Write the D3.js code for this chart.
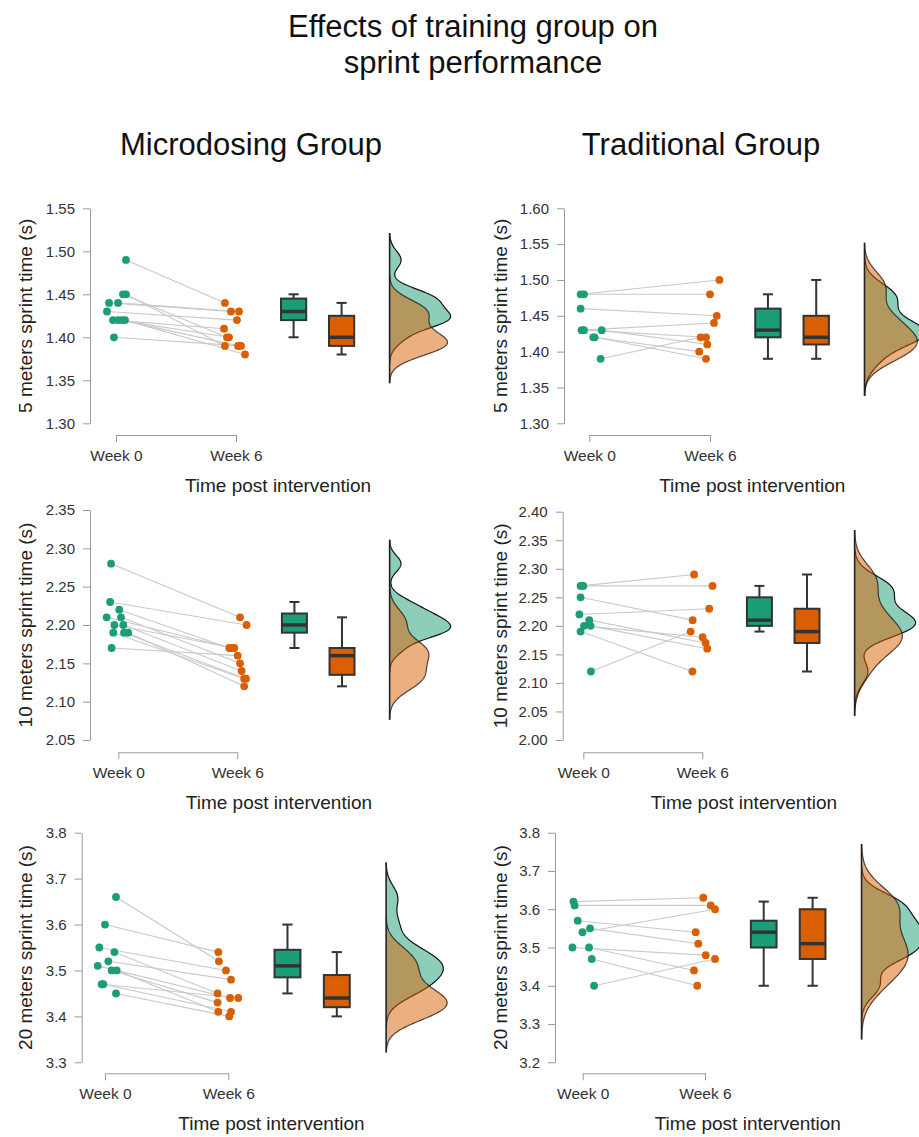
<!DOCTYPE html>
<html lang="en">
<head>
    <meta charset="UTF-8">
    <title>Effects of training group on sprint performance</title>
    <script src="https://d3js.org/d3.v7.min.js"></script>
    <style>
        body {
            margin: 0;
            background: #fff;
            font-family: "Liberation Sans", Arial, sans-serif;
        }
        svg { display: block; }
    </style>
</head>
<body>
    <svg width="919" height="1137"></svg>
    <script>
        // ---- data ----
        const weeks = ["Week 0", "Week 6"];
        const groupTitles = ["Microdosing Group", "Traditional Group"];
        const yLabels = ["5 meters sprint time (s)", "10 meters sprint time (s)", "20 meters sprint time (s)"];
        const xLabel = "Time post intervention";

        // paired values: index i in week0 belongs to index i in week6
        const micro5Week0 = [1.49, 1.45, 1.45, 1.44, 1.44, 1.43, 1.42, 1.42, 1.42, 1.42, 1.40];
        const micro5Week6 = [1.44, 1.40, 1.39, 1.43, 1.43, 1.42, 1.41, 1.40, 1.39, 1.38, 1.39];
        const trad5Week0  = [1.48, 1.48, 1.46, 1.43, 1.43, 1.43, 1.42, 1.42, 1.39];
        const trad5Week6  = [1.50, 1.48, 1.45, 1.44, 1.42, 1.41, 1.40, 1.39, 1.42];

        const micro10Week0 = [2.28, 2.23, 2.22, 2.21, 2.21, 2.20, 2.20, 2.19, 2.19, 2.19, 2.17];
        const micro10Week6 = [2.21, 2.20, 2.17, 2.17, 2.15, 2.17, 2.14, 2.13, 2.13, 2.12, 2.16];
        const trad10Week0  = [2.27, 2.27, 2.25, 2.22, 2.21, 2.20, 2.20, 2.19, 2.12];
        const trad10Week6  = [2.29, 2.27, 2.21, 2.23, 2.17, 2.18, 2.16, 2.12, 2.19];

        const micro20Week0 = [3.66, 3.60, 3.55, 3.54, 3.52, 3.51, 3.50, 3.50, 3.47, 3.47, 3.45];
        const micro20Week6 = [3.52, 3.54, 3.50, 3.45, 3.48, 3.44, 3.43, 3.41, 3.44, 3.41, 3.40];
        const trad20Week0  = [3.62, 3.61, 3.57, 3.55, 3.54, 3.50, 3.50, 3.47, 3.40];
        const trad20Week6  = [3.63, 3.61, 3.54, 3.51, 3.60, 3.48, 3.44, 3.40, 3.47];

        // horizontal jitter of each point, in units of the week spacing
        const micro5Jit0 = [0.083, 0.058, 0.083, -0.058, 0.017, -0.075, -0.025, 0.017, 0.05, 0.075, -0.017];
        const micro5Jit6 = [-0.092, -0.075, -0.092, -0.042, 0.025, 0.008, -0.1, -0.058, 0.017, 0.075, 0.042];
        const trad5Jit0  = [-0.072, -0.044, -0.072, -0.064, -0.044, 0.103, 0.033, 0.044, 0.094];
        const trad5Jit6  = [0.078, 0, 0.056, 0.033, -0.033, -0.022, -0.089, -0.033, -0.078];
        const micro10Jit0 = [-0.061, -0.069, 0.008, -0.098, 0.023, -0.033, 0.042, -0.042, 0.048, 0.083, -0.056];
        const micro10Jit6 = [0.023, 0.078, -0.067, -0.048, 0.023, -0.025, 0.036, 0.058, 0.073, 0.058, 0.003];
        const trad10Jit0  = [-0.023, 0, -0.023, -0.033, 0.05, 0.006, 0.061, -0.023, 0.064];
        const trad10Jit6  = [-0.069, 0.086, -0.081, 0.058, 0.028, 0.003, 0.042, -0.083, -0.098];
        const micro20Jit0 = [0.089, 0, -0.046, 0.076, 0.027, -0.059, 0.054, 0.095, -0.027, -0.014, 0.089];
        const micro20Jit6 = [-0.076, -0.081, -0.019, -0.087, 0.022, 0.014, -0.087, -0.081, 0.081, 0.022, 0.008];
        const trad20Jit0  = [-0.076, -0.066, -0.041, 0.06, -0.002, -0.084, 0.052, 0.074, 0.093];
        const trad20Jit6  = [-0.014, 0.047, -0.076, -0.055, 0.082, 0.006, -0.09, -0.063, 0.082];

        // y tick values
        const ticksMicro5  = [1.30, 1.35, 1.40, 1.45, 1.50, 1.55];
        const ticksTrad5   = [1.30, 1.35, 1.40, 1.45, 1.50, 1.55, 1.60];
        const ticksMicro10 = [2.05, 2.10, 2.15, 2.20, 2.25, 2.30, 2.35];
        const ticksTrad10  = [2.00, 2.05, 2.10, 2.15, 2.20, 2.25, 2.30, 2.35, 2.40];
        const ticksMicro20 = [3.3, 3.4, 3.5, 3.6, 3.7, 3.8];
        const ticksTrad20  = [3.2, 3.3, 3.4, 3.5, 3.6, 3.7, 3.8];

        const colors = ["#1b9e77", "#d95f02"];
        const boxPos = [1.48, 1.88];   // box plot slots (week spacing units)
        const densPos = 2.28;          // baseline of the half violins

        // panel frames (pixel layout)
        const panels = [
            {a: micro5Week0, b: micro5Week6, ja: micro5Jit0, jb: micro5Jit6, ticks: ticksMicro5, fmt: ".2f", row: 0,
             axisX: 90, x0: 116, x1: 236, yTop: 208.3, yBot: 423.3, xAxisY: 435, ylabX: 25},
            {a: trad5Week0, b: trad5Week6, ja: trad5Jit0, jb: trad5Jit6, ticks: ticksTrad5, fmt: ".2f", row: 0,
             axisX: 564, x0: 589.3, x1: 710, yTop: 208.3, yBot: 423.3, xAxisY: 435, ylabX: 500},
            {a: micro10Week0, b: micro10Week6, ja: micro10Jit0, jb: micro10Jit6, ticks: ticksMicro10, fmt: ".2f", row: 1,
             axisX: 90, x0: 118.3, x1: 237.3, yTop: 510, yBot: 740, xAxisY: 752.3, ylabX: 25},
            {a: trad10Week0, b: trad10Week6, ja: trad10Jit0, jb: trad10Jit6, ticks: ticksTrad10, fmt: ".2f", row: 1,
             axisX: 562.7, x0: 583.3, x1: 702.3, yTop: 511.7, yBot: 740, xAxisY: 752.3, ylabX: 500},
            {a: micro20Week0, b: micro20Week6, ja: micro20Jit0, jb: micro20Jit6, ticks: ticksMicro20, fmt: ".1f", row: 2,
             axisX: 81.7, x0: 105, x1: 228.3, yTop: 832.7, yBot: 1062.3, xAxisY: 1073.3, ylabX: 25},
            {a: trad20Week0, b: trad20Week6, ja: trad20Jit0, jb: trad20Jit6, ticks: ticksTrad20, fmt: ".1f", row: 2,
             axisX: 555, x0: 582.7, x1: 705, yTop: 832.7, yBot: 1062.3, xAxisY: 1073.3, ylabX: 500}
        ];

        const svg = d3.select("svg");
        svg.append("rect").attr("width", 919).attr("height", 1137).attr("fill", "#fff");

        // titles
        svg.append("text").attr("x", 473).attr("y", 37).attr("text-anchor", "middle")
            .attr("font-size", 31).attr("fill", "#111").text("Effects of training group on");
        svg.append("text").attr("x", 473).attr("y", 73).attr("text-anchor", "middle")
            .attr("font-size", 31).attr("fill", "#111").text("sprint performance");
        svg.selectAll(".gtitle").data(groupTitles).join("text")
            .attr("class", "gtitle")
            .attr("x", (d, i) => i === 0 ? 251 : 701).attr("y", 155)
            .attr("text-anchor", "middle").attr("font-size", 31).attr("fill", "#111")
            .text(d => d);

        const sortUp = v => v.slice().sort(d3.ascending);

        // R style bandwidth (bw.nrd0) and gaussian kde, cut = 3
        function bwNrd0(v) {
            const s = sortUp(v);
            const iqr = d3.quantileSorted(s, 0.75) - d3.quantileSorted(s, 0.25);
            const lo = Math.min(d3.deviation(v), iqr / 1.34);
            return 0.9 * lo * Math.pow(v.length, -0.2);
        }
        function kde(v) {
            const bw = bwNrd0(v);
            const lo = d3.min(v) - 3 * bw, hi = d3.max(v) + 3 * bw;
            const n = 256, pts = [];
            for (let k = 0; k < n; k++) {
                const t = lo + (hi - lo) * k / (n - 1);
                const dens = d3.mean(v, x => Math.exp(-0.5 * ((t - x) / bw) ** 2)) / (bw * Math.sqrt(2 * Math.PI));
                pts.push([t, dens]);
            }
            return pts;
        }
        function boxStats(v) {
            const s = sortUp(v);
            const q1 = d3.quantileSorted(s, 0.25), med = d3.quantileSorted(s, 0.5), q3 = d3.quantileSorted(s, 0.75);
            const iqr = q3 - q1;
            const lo = d3.min(s.filter(x => x >= q1 - 1.5 * iqr - 1e-9));
            const hi = d3.max(s.filter(x => x <= q3 + 1.5 * iqr + 1e-9));
            return {q1, med, q3, lo, hi};
        }

        panels.forEach(p => {
            const x = d3.scaleLinear().domain([0, 1]).range([p.x0, p.x1]);
            const y = d3.scaleLinear().domain([p.ticks[0], p.ticks[p.ticks.length - 1]]).range([p.yBot, p.yTop]);
            const g = svg.append("g");

            // y axis
            const ya = g.append("g").attr("transform", `translate(${p.axisX},0)`)
                .call(d3.axisLeft(y).tickValues(p.ticks).tickFormat(d3.format(p.fmt)).tickSize(7).tickSizeOuter(0).tickPadding(8));
            ya.select(".domain").attr("stroke", "#9a9a9a");
            ya.selectAll(".tick line").attr("stroke", "#9a9a9a");
            ya.selectAll("text").attr("font-size", 15).attr("fill", "#333").attr("font-family", "Liberation Sans, Arial, sans-serif");

            // x axis (bracket)
            const xa = g.append("g").attr("transform", `translate(0,${p.xAxisY})`)
                .call(d3.axisBottom(x).tickValues([0, 1]).tickFormat((d, i) => weeks[i]).tickSize(7).tickSizeOuter(0).tickPadding(8));
            xa.select(".domain").attr("stroke", "#9a9a9a");
            xa.selectAll(".tick line").attr("stroke", "#9a9a9a");
            xa.selectAll("text").attr("font-size", 15.5).attr("fill", "#333").attr("font-family", "Liberation Sans, Arial, sans-serif");

            // axis titles
            g.append("text")
                .attr("transform", `translate(${p.ylabX},${(p.yTop + p.yBot) / 2}) rotate(-90)`)
                .attr("dy", "0.35em").attr("text-anchor", "middle")
                .attr("font-size", 19).attr("fill", "#222").text(yLabels[p.row]);
            g.append("text").attr("x", x(1.35)).attr("y", p.xAxisY + 57)
                .attr("text-anchor", "middle").attr("font-size", 19).attr("fill", "#222").text(xLabel);

            // connecting lines
            g.append("g").selectAll("line").data(p.a).join("line")
                .attr("x1", (d, i) => x(0 + p.ja[i])).attr("y1", d => y(d))
                .attr("x2", (d, i) => x(1 + p.jb[i])).attr("y2", (d, i) => y(p.b[i]))
                .attr("stroke", "#c9c9c9").attr("stroke-width", 1.1);

            // points
            [[p.a, p.ja, 0], [p.b, p.jb, 1]].forEach(([vals, jit, k]) => {
                g.append("g").selectAll("circle").data(vals).join("circle")
                    .attr("cx", (d, i) => x(k + jit[i])).attr("cy", d => y(d))
                    .attr("r", 3.9).attr("fill", colors[k]);
            });

            // boxes
            const halfW = (x(0.105) - x(0)), capW = (x(0.042) - x(0));
            [p.a, p.b].forEach((vals, k) => {
                const s = boxStats(vals), cx = x(boxPos[k]);
                const bg = g.append("g").attr("stroke", "#333").attr("stroke-width", 2);
                bg.append("line").attr("x1", cx).attr("x2", cx).attr("y1", y(s.hi)).attr("y2", y(s.q3));
                bg.append("line").attr("x1", cx).attr("x2", cx).attr("y1", y(s.q1)).attr("y2", y(s.lo));
                bg.append("line").attr("x1", cx - capW).attr("x2", cx + capW).attr("y1", y(s.hi)).attr("y2", y(s.hi));
                bg.append("line").attr("x1", cx - capW).attr("x2", cx + capW).attr("y1", y(s.lo)).attr("y2", y(s.lo));
                bg.append("rect").attr("x", cx - halfW).attr("width", 2 * halfW)
                    .attr("y", y(s.q3)).attr("height", y(s.q1) - y(s.q3)).attr("fill", colors[k]);
                bg.append("line").attr("x1", cx - halfW).attr("x2", cx + halfW).attr("y1", y(s.med)).attr("y2", y(s.med))
                    .attr("stroke-width", 3.5);
            });

            // half violins
            const dens = [kde(p.a), kde(p.b)];
            const maxD = d3.max(dens.flat(), d => d[1]);
            const base = x(densPos);
            const w = d3.scaleLinear().domain([0, maxD]).range([0, 61]);
            const area = d3.area().y(d => y(d[0])).x0(base).x1(d => base + w(d[1]));
            const curve = d3.line().y(d => y(d[0])).x(d => base + w(d[1]));
            dens.forEach((pts, k) => {
                g.append("path").attr("d", area(pts)).attr("fill", colors[k]).attr("fill-opacity", 0.5);
                g.append("path").attr("d", curve(pts)).attr("fill", "none")
                    .attr("stroke", "#111").attr("stroke-width", 1.2).attr("stroke-opacity", k === 0 ? 1 : 0.75);
            });
            const ext = d3.extent(dens.flat(), d => d[0]);
            g.append("line").attr("x1", base).attr("x2", base).attr("y1", y(ext[0])).attr("y2", y(ext[1]))
                .attr("stroke", "#222").attr("stroke-width", 1.6);
        });
    </script>
</body>
</html>
